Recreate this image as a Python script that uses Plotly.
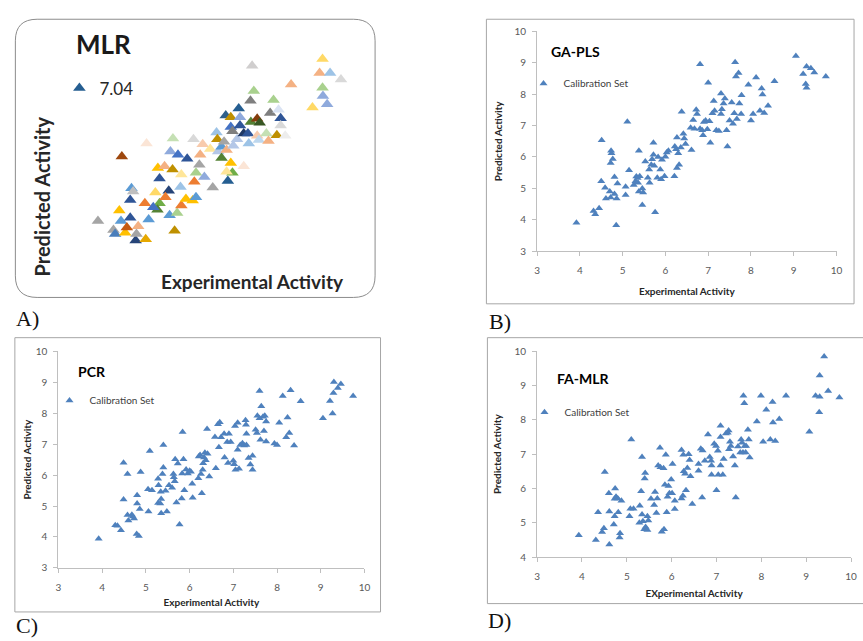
import plotly.graph_objects as go

W, H = 863, 641


def fx(v):
    return v / W


def fy(v):
    return 1 - v / H


# ---------------- data ----------------
# Panel A (MLR) - points coloured individually (Excel "vary colours by point")
mlr_points = [
    (7.28, 7.62), (3.92, 4.18), (4.29, 3.90), (4.33, 3.78), (4.43, 4.50), (4.47, 4.18),
    (4.57, 3.82), (4.61, 3.98), (4.69, 4.28), (4.82, 3.58), (4.84, 3.78), (4.88, 4.02),
    (5.06, 3.62), (5.13, 4.22), (4.69, 4.82), (4.72, 5.18), (4.76, 5.08), (4.49, 6.15),
    (5.08, 6.55), (5.04, 4.72), (5.29, 5.05), (5.39, 4.72), (5.34, 4.52), (5.24, 4.60),
    (5.35, 5.80), (5.51, 5.85), (5.39, 5.48), (5.61, 5.10), (5.53, 4.90), (5.63, 4.35),
    (5.75, 3.88), (5.81, 4.42), (5.91, 4.65), (5.70, 5.75), (5.65, 6.30), (5.83, 6.20),
    (5.71, 6.70), (5.91, 5.60), (5.89, 5.22), (6.05, 6.08), (6.02, 4.85), (6.18, 4.80),
    (6.26, 4.90), (6.20, 6.68), (6.26, 5.65), (6.22, 5.38), (6.34, 5.90), (6.36, 6.20),
    (6.42, 6.52), (6.46, 5.52), (6.60, 6.38), (6.66, 5.20), (6.75, 6.88), (6.77, 6.68),
    (6.79, 6.30), (6.87, 6.45), (6.87, 6.10), (6.93, 6.60), (6.99, 6.35), (7.02, 5.40),
    (7.09, 5.95), (7.13, 5.65), (6.99, 5.68), (7.15, 6.48), (7.40, 5.85), (6.97, 7.40),
    (7.09, 7.35), (7.09, 7.05), (7.31, 7.35), (7.31, 7.10), (7.13, 6.92), (7.24, 6.68),
    (7.40, 6.85), (7.57, 7.20), (7.72, 7.30), (7.78, 7.18), (7.50, 6.85), (7.52, 6.55),
    (7.60, 8.92), (7.56, 7.85), (7.64, 8.15), (7.72, 6.78), (7.76, 6.65), (7.94, 6.85),
    (7.99, 6.62), (8.11, 7.88), (8.03, 7.48), (8.23, 7.58), (8.28, 7.32), (8.19, 6.80),
    (8.28, 7.10), (8.39, 6.78), (8.53, 8.35), (9.04, 7.65), (9.21, 8.70), (9.28, 9.13),
    (9.28, 8.25), (9.29, 8.00), (9.39, 7.75), (9.46, 8.70), (9.72, 8.50),
]
mlr_colors = [
    '#255E91', '#A5A5A5', '#A5A5A5', '#4A7EBB', '#FFC000', '#5B9BD5',
    '#FFC000', '#C55A11', '#2F5597', '#264478', '#A5A5A5', '#F4B183',
    '#E6A800', '#5B9BD5', '#2F5597', '#5B9BD5', '#BFBFBF', '#9E480E',
    '#FBE5D6', '#ED7D31', '#FFD966', '#70AD47', '#548235', '#4472C4',
    '#FFC000', '#F4B183', '#2F5597', '#264478', '#ED7D31', '#5B9BD5',
    '#BF9000', '#A9D18E', '#ED7D31', '#BF9000', '#8FAADC', '#4472C4',
    '#C5E0B4', '#FFE699', '#9DC3E6', '#2F5597', '#FFC000', '#FFC000',
    '#5B9BD5', '#D9D9D9', '#A9D18E', '#ED7D31', '#A5A5A5', '#F4B183',
    '#F8CBAD', '#8FAADC', '#FFE699', '#A5A5A5', '#9DC3E6', '#BF9000',
    '#B4C7E7', '#5B9BD5', '#548235', '#A5A5A5', '#F4B183', '#255E91',
    '#FFC000', '#70AD47', '#FFE699', '#B4C7E7', '#FBE5D6', '#2E5F8A',
    '#BF9000', '#4472C4', '#8FAADC', '#2F5597', '#7F7F7F', '#B4C7E7',
    '#1F3864', '#548235', '#843C0C', '#385723', '#2F5597', '#9DC3E6',
    '#D0CECE', '#7F7F7F', '#A9D18E', '#F8CBAD', '#BDD7EE', '#C5E0B4',
    '#F4B183', '#A9D18E', '#7F7F7F', '#DAE3F3', '#2F5597', '#BF9000',
    '#D9D9D9', '#EDEDED', '#F4B183', '#FFD966', '#F4B183', '#FFD966',
    '#A9D18E', '#8FAADC', '#8FAADC', '#9DC3E6', '#D9D9D9',
]

# Panel B (GA-PLS)
gapls_points = [
    (3.92, 3.91), (4.32, 4.28), (4.36, 4.18), (4.45, 4.37), (4.51, 6.53), (4.50, 5.23),
    (4.59, 5.02), (4.61, 4.68), (4.73, 6.20), (4.74, 6.12), (4.77, 5.94), (4.72, 5.81),
    (4.70, 4.90), (4.72, 4.71), (4.81, 5.36), (4.81, 4.82), (4.86, 4.68), (4.88, 5.16),
    (4.85, 3.83), (5.07, 5.05), (5.07, 4.79), (5.11, 7.12), (5.15, 5.58), (5.26, 5.11),
    (5.30, 5.23), (5.32, 5.38), (5.35, 5.33), (5.36, 5.18), (5.38, 6.20), (5.40, 5.39),
    (5.38, 4.90), (5.46, 5.00), (5.48, 4.87), (5.46, 4.47), (5.53, 5.86), (5.59, 5.34),
    (5.62, 5.60), (5.63, 5.18), (5.67, 5.75), (5.69, 5.93), (5.72, 6.45), (5.72, 6.07),
    (5.74, 5.72), (5.76, 4.24), (5.81, 5.34), (5.83, 6.00), (5.88, 5.60), (5.90, 5.29),
    (5.92, 5.91), (5.98, 5.39), (6.00, 6.01), (6.03, 6.14), (6.07, 6.20), (6.21, 5.39),
    (6.22, 6.33), (6.25, 6.25), (6.27, 6.62), (6.27, 5.65), (6.30, 6.12), (6.32, 5.75),
    (6.36, 6.30), (6.38, 7.44), (6.42, 6.74), (6.44, 6.59), (6.47, 6.41), (6.59, 6.93),
    (6.61, 6.22), (6.65, 7.18), (6.68, 6.90), (6.72, 7.50), (6.74, 7.37), (6.81, 6.90),
    (6.81, 8.95), (6.86, 6.85), (6.88, 6.69), (6.90, 7.11), (6.94, 7.16), (6.98, 6.88),
    (7.00, 8.36), (7.03, 7.14), (7.05, 6.45), (7.10, 7.39), (7.13, 7.78), (7.15, 7.47),
    (7.19, 6.85), (7.25, 6.83), (7.30, 7.37), (7.30, 8.02), (7.32, 7.52), (7.36, 7.70),
    (7.39, 7.86), (7.43, 6.85), (7.45, 6.33), (7.50, 7.16), (7.55, 7.73), (7.58, 7.06),
    (7.61, 7.39), (7.63, 9.01), (7.65, 8.56), (7.67, 7.21), (7.71, 8.67), (7.73, 7.70),
    (7.77, 7.37), (7.78, 7.96), (7.94, 8.30), (8.00, 7.16), (8.05, 7.37), (8.12, 8.53),
    (8.21, 7.47), (8.25, 8.18), (8.27, 7.99), (8.31, 7.40), (8.40, 7.63), (8.55, 8.41),
    (9.05, 9.21), (9.22, 8.64), (9.28, 8.32), (9.30, 8.20), (9.30, 8.88), (9.40, 8.82),
    (9.48, 8.69), (9.75, 8.56),
]

# Panel C (PCR)
pcr_points = [
    (3.92, 3.94), (4.30, 4.38), (4.35, 4.36), (4.43, 4.22), (4.49, 5.21), (4.49, 6.40),
    (4.58, 6.03), (4.58, 4.71), (4.60, 4.53), (4.68, 4.72), (4.70, 4.66), (4.73, 4.60),
    (4.79, 4.10), (4.80, 5.35), (4.80, 5.08), (4.84, 4.03), (4.86, 4.90), (4.88, 6.10),
    (5.05, 5.54), (5.06, 4.82), (5.09, 6.78), (5.14, 5.51), (5.28, 5.88), (5.28, 5.10),
    (5.29, 5.67), (5.33, 5.08), (5.34, 5.46), (5.35, 5.23), (5.35, 4.77), (5.38, 6.03),
    (5.40, 6.24), (5.40, 6.97), (5.45, 5.49), (5.48, 4.82), (5.53, 5.67), (5.60, 5.59),
    (5.63, 6.03), (5.64, 5.93), (5.66, 5.80), (5.67, 6.51), (5.70, 5.11), (5.73, 6.37),
    (5.77, 4.40), (5.82, 5.24), (5.83, 6.05), (5.84, 7.39), (5.86, 6.51), (5.88, 5.51),
    (5.92, 6.18), (5.96, 6.05), (6.00, 6.14), (6.03, 6.11), (6.06, 5.72), (6.07, 5.27),
    (6.20, 5.90), (6.21, 6.60), (6.24, 6.65), (6.26, 6.03), (6.28, 5.41), (6.30, 6.17),
    (6.31, 6.38), (6.33, 6.57), (6.35, 6.72), (6.37, 6.48), (6.40, 7.49), (6.41, 6.69),
    (6.45, 5.95), (6.58, 7.23), (6.60, 6.22), (6.65, 7.64), (6.67, 6.90), (6.69, 7.70),
    (6.72, 7.22), (6.79, 7.33), (6.80, 6.57), (6.86, 7.07), (6.88, 6.39), (6.90, 7.33),
    (6.94, 7.07), (7.00, 6.46), (7.02, 6.35), (7.04, 7.58), (7.05, 6.17), (7.10, 7.69),
    (7.10, 6.82), (7.13, 6.20), (7.16, 6.97), (7.21, 7.03), (7.25, 6.95), (7.28, 7.77),
    (7.29, 7.62), (7.30, 7.33), (7.30, 6.97), (7.35, 6.55), (7.39, 6.34), (7.44, 6.62),
    (7.44, 6.17), (7.51, 7.46), (7.54, 7.36), (7.55, 7.91), (7.60, 8.71), (7.60, 7.83),
    (7.62, 7.14), (7.64, 8.22), (7.68, 7.88), (7.70, 7.42), (7.72, 7.91), (7.75, 7.73),
    (7.75, 7.08), (7.94, 7.02), (8.00, 6.97), (8.05, 7.69), (8.13, 8.55), (8.21, 7.22),
    (8.24, 7.86), (8.28, 7.36), (8.31, 8.74), (8.39, 6.95), (8.54, 8.38), (9.05, 7.83),
    (9.21, 8.39), (9.27, 7.99), (9.29, 8.65), (9.30, 9.00), (9.39, 8.81), (9.46, 8.94),
    (9.74, 8.55),
]

# Panel D (FA-MLR)
famlr_points = [
    (3.93, 4.64), (4.31, 4.50), (4.36, 5.31), (4.45, 4.73), (4.49, 4.84), (4.51, 6.48),
    (4.60, 5.86), (4.61, 5.33), (4.61, 4.37), (4.71, 4.95), (4.73, 5.19), (4.73, 5.70),
    (4.74, 6.00), (4.76, 5.76), (4.80, 5.71), (4.81, 5.31), (4.84, 4.57), (4.85, 4.70),
    (4.88, 5.64), (5.06, 5.19), (5.08, 5.41), (5.10, 7.43), (5.15, 5.41), (5.28, 5.00),
    (5.29, 5.50), (5.32, 5.92), (5.34, 6.92), (5.34, 5.24), (5.36, 5.05), (5.39, 4.81),
    (5.40, 6.29), (5.41, 6.45), (5.42, 4.88), (5.46, 5.19), (5.48, 5.07), (5.46, 4.79),
    (5.54, 5.70), (5.61, 5.52), (5.63, 5.90), (5.66, 5.29), (5.68, 5.71), (5.70, 6.67),
    (5.74, 7.19), (5.75, 6.62), (5.78, 4.74), (5.83, 4.81), (5.82, 6.59), (5.85, 6.11),
    (5.87, 6.98), (5.89, 5.31), (5.91, 5.76), (5.93, 6.07), (5.95, 5.86), (5.99, 6.26),
    (6.02, 6.71), (6.01, 5.86), (6.07, 5.64), (6.07, 5.40), (6.22, 5.71), (6.22, 7.12),
    (6.25, 5.79), (6.26, 6.98), (6.27, 6.50), (6.30, 6.43), (6.32, 5.95), (6.35, 6.60),
    (6.38, 7.00), (6.40, 6.83), (6.42, 6.36), (6.46, 5.55), (6.60, 6.71), (6.60, 6.52),
    (6.65, 7.16), (6.69, 7.11), (6.68, 5.74), (6.74, 6.81), (6.81, 7.57), (6.85, 6.92),
    (6.88, 6.81), (6.89, 6.67), (6.89, 6.40), (6.95, 7.30), (6.99, 7.24), (7.00, 5.95),
    (7.03, 7.10), (7.04, 6.40), (7.09, 7.83), (7.09, 7.50), (7.09, 6.67), (7.14, 6.40),
    (7.16, 6.86), (7.21, 7.60), (7.25, 7.62), (7.27, 7.69), (7.28, 7.14), (7.30, 7.36),
    (7.32, 7.24), (7.37, 6.93), (7.41, 6.67), (7.43, 5.74), (7.48, 7.22), (7.53, 7.05),
    (7.55, 7.43), (7.57, 7.33), (7.60, 8.70), (7.62, 8.48), (7.59, 7.05), (7.63, 7.24),
    (7.65, 7.05), (7.66, 7.24), (7.70, 7.71), (7.72, 7.43), (7.74, 6.90), (7.90, 7.95),
    (7.99, 8.70), (8.04, 7.36), (8.11, 8.29), (8.20, 7.43), (8.25, 8.52), (8.26, 7.92),
    (8.31, 7.38), (8.40, 8.02), (8.55, 8.70), (9.07, 7.65), (9.21, 8.70), (9.30, 9.29),
    (9.30, 8.67), (9.29, 8.22), (9.40, 9.84), (9.49, 8.84), (9.74, 8.65),
]

axis_ticks = [3, 4, 5, 6, 7, 8, 9, 10]
famlr_y_ticks = [4, 5, 6, 7, 8, 9, 10]

panel_titles = ['MLR', 'GA-PLS', 'PCR', 'FA-MLR']
panel_labels = ['A)', 'B)', 'C)', 'D)']
legend_names = ['7.04', 'Calibration Set']
x_titles = ['Experimental Activity', 'Experimental Activity', 'Experimental Activity',
            'EXperimental Activity']
y_title = 'Predicted Activity'

# ---------------- figure ----------------
BLUE = '#4F81BD'
FONT = 'Lato'
fig = go.Figure()


def unzip(points):
    return [p[0] for p in points], [p[1] for p in points]


ax_, ay_ = unzip(mlr_points)
fig.add_trace(go.Scatter(
    x=ax_, y=ay_, mode='markers', name=legend_names[0], legend='legend',
    marker=dict(symbol='triangle-up', size=11, color=mlr_colors, line=dict(width=0)),
    xaxis='x', yaxis='y', hoverinfo='x+y'))

for pts, xa, ya, lg in [(gapls_points, 'x2', 'y2', 'legend2'),
                        (pcr_points, 'x3', 'y3', 'legend3'),
                        (famlr_points, 'x4', 'y4', 'legend4')]:
    px_, py_ = unzip(pts)
    fig.add_trace(go.Scatter(
        x=px_, y=py_, mode='markers', name=legend_names[1], legend=lg,
        marker=dict(symbol='triangle-up', size=7, color=BLUE, line=dict(width=0)),
        xaxis=xa, yaxis=ya, hoverinfo='x+y'))

tick_font = dict(family=FONT, size=10, color='#595959')
title_font = dict(family=FONT, size=10, color='#262626', weight='bold')


def xax(dom, title, standoff):
    return dict(domain=[fx(dom[0]), fx(dom[1])], range=[3, 10], tickvals=axis_ticks,
                showline=True, linecolor='#BFBFBF', linewidth=1, ticks='outside',
                ticklen=4, tickcolor='#BFBFBF', showgrid=False, zeroline=False,
                tickfont=tick_font, ticklabelstandoff=6, fixedrange=True,
                title=dict(text=title, font=title_font, standoff=standoff))


def yax(dom, rng, ticks, title, standoff, anchor):
    return dict(domain=[fy(dom[1]), fy(dom[0])], range=rng, tickvals=ticks,
                showline=True, linecolor='#BFBFBF', linewidth=1, ticks='outside',
                ticklen=4, tickcolor='#BFBFBF', showgrid=False, zeroline=False,
                tickfont=tick_font, ticklabelstandoff=4, fixedrange=True, anchor=anchor,
                title=dict(text=title, font=title_font, standoff=standoff))


legend_common = dict(bgcolor='rgba(0,0,0,0)', borderwidth=0, xanchor='left',
                     yanchor='middle', xref='paper', yref='paper')

# rounded frame for panel A
x0, x1, y0, y1, r = 12.5, 376, 13.5, 297, 22
rx, ry = r / W, r / H
X0, X1, Y0, Y1 = fx(x0), fx(x1), fy(y0), fy(y1)
rounded = (f"M {X0 + rx},{Y0} L {X1 - rx},{Y0} Q {X1},{Y0} {X1},{Y0 - ry} "
           f"L {X1},{Y1 + ry} Q {X1},{Y1} {X1 - rx},{Y1} L {X0 + rx},{Y1} "
           f"Q {X0},{Y1} {X0},{Y1 + ry} L {X0},{Y0 - ry} Q {X0},{Y0} {X0 + rx},{Y0} Z")

frame_color = '#A6A6A6'
shapes = [
    dict(type='path', path=rounded, xref='paper', yref='paper',
         line=dict(color='#8C8C8C', width=1)),
    dict(type='rect', xref='paper', yref='paper', x0=fx(488.5), x1=fx(860), y0=fy(303.5),
         y1=fy(13.5), line=dict(color=frame_color, width=1)),
    dict(type='rect', xref='paper', yref='paper', x0=fx(12), x1=fx(381.5), y0=fy(617.5),
         y1=fy(338), line=dict(color=frame_color, width=1)),
    dict(type='rect', xref='paper', yref='paper', x0=fx(489.5), x1=1.02, y0=fy(609),
         y1=fy(338), line=dict(color=frame_color, width=1)),
]


def note(text, x, y, size, color='#262626', anchor='center', angle=0, family=FONT,
         bold=True):
    return dict(text=text, x=fx(x), y=fy(y), xref='paper', yref='paper',
                xanchor=anchor, yanchor='middle', textangle=angle, showarrow=False,
                font=dict(family=family, size=size, color=color,
                          weight='bold' if bold else 'normal'))


annotations = [
    note(panel_titles[0], 102, 39, 26, '#1A1A1A'),
    note(y_title, 39.5, 194, 20, angle=-90),
    note(x_titles[0], 252.5, 281, 19),
    note(panel_titles[1], 552, 46, 14, '#000000', anchor='left'),
    note(panel_titles[2], 74, 372, 14, '#000000', anchor='left'),
    note(panel_titles[3], 558, 380, 14, '#000000', anchor='left'),
]
for lbl, lx, ly in zip(panel_labels, [11, 489, 11, 488], [318, 322, 631, 626]):
    annotations.append(note(lbl, lx, ly, 22, '#111111', anchor='left',
                            family='Liberation Serif', bold=False))

fig.update_layout(
    width=W, height=H, autosize=False,
    margin=dict(l=0, r=0, t=0, b=0),
    paper_bgcolor='white', plot_bgcolor='rgba(0,0,0,0)',
    showlegend=True,
    xaxis=dict(domain=[fx(10), fx(376.67)], range=[1.89, 10.55], visible=False,
               fixedrange=True),
    yaxis=dict(domain=[fy(300), fy(15)], range=[1.75, 10.3], visible=False,
               fixedrange=True),
    xaxis2=xax((539.7, 842.3), x_titles[1], 12) | dict(anchor='y2'),
    yaxis2=yax((25.7, 250), [3, 10], axis_ticks, y_title, 9, 'x2'),
    xaxis3=xax((56, 365.3), x_titles[2], 7) | dict(anchor='y3'),
    yaxis3=yax((351.7, 572.7), [3, 10], axis_ticks, y_title, 2, 'x3'),
    xaxis4=xax((539.7, 857), x_titles[3], 8) | dict(anchor='y4'),
    yaxis4=yax((351.7, 561.7), [4, 10], famlr_y_ticks, y_title, 10, 'x4'),
    legend=legend_common | dict(x=fx(57), y=fy(84),
                                font=dict(family=FONT, size=17, color='#262626')),
    legend2=legend_common | dict(x=fx(526), y=fy(79),
                                 font=dict(family=FONT, size=10, color='#404040')),
    legend3=legend_common | dict(x=fx(47), y=fy(402),
                                 font=dict(family=FONT, size=10, color='#404040')),
    legend4=legend_common | dict(x=fx(527), y=fy(414),
                                 font=dict(family=FONT, size=10, color='#404040')),
    shapes=shapes,
    annotations=annotations,
)

fig.write_html("out.html", config={'displayModeBar': False},
               post_script="document.body.style.margin='0';")
